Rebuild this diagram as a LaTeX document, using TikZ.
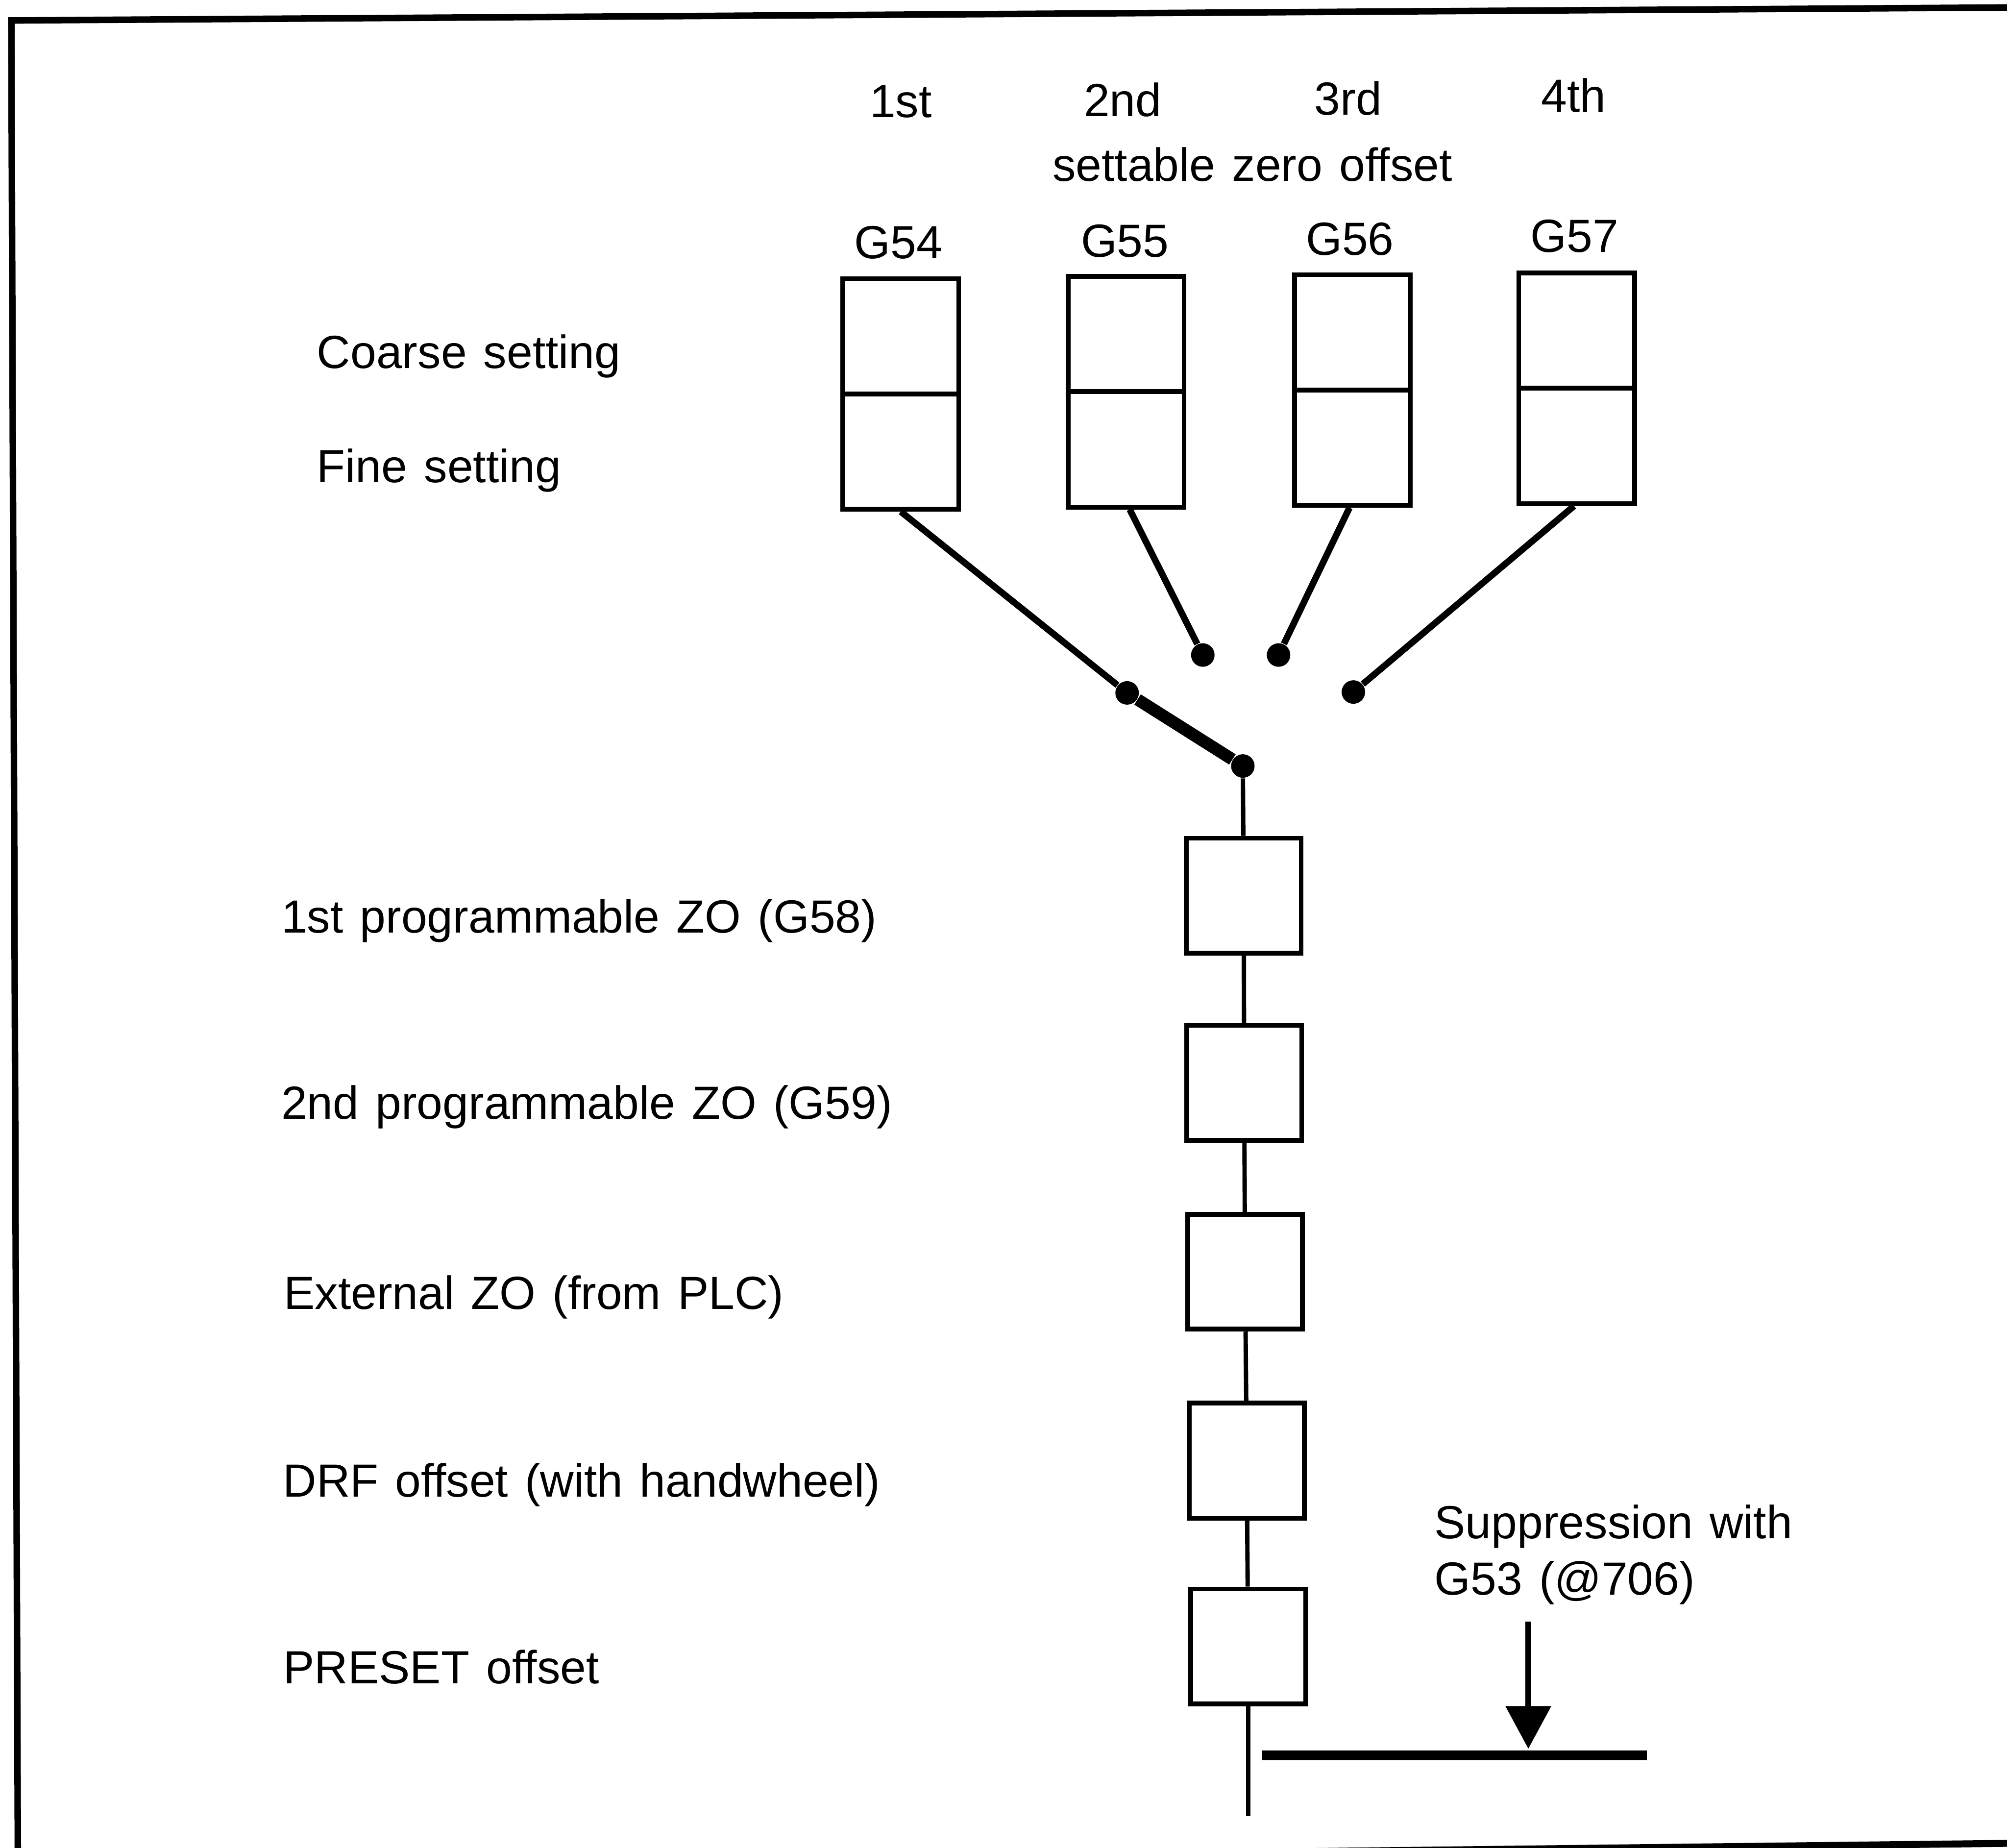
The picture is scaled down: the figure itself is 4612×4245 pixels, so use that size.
\documentclass[tikz,border=0pt]{standalone}
\usepackage{fontspec}
\setmainfont{Liberation Sans}
\usetikzlibrary{arrows.meta}
\newcommand\labelfont{\fontsize{15.2pt}{18.4pt}\selectfont\spaceskip 0.36em\relax}
\begin{document}
\begin{tikzpicture}[x=0.05mm,y=-0.05mm,
  lbl/.style={inner sep=0pt, font=\labelfont},
  setbox/.style={draw, line width=0.55mm, minimum width=13.3mm, minimum height=26.5mm, inner sep=0pt},
  zobox/.style={draw, line width=0.55mm, minimum width=13.2mm, minimum height=13.2mm, inner sep=0pt},
  contact/.style={circle, fill, minimum size=2.7mm, inner sep=0pt},
  wire/.style={line width=0.75mm},
  closedwire/.style={line width=1.4mm},
  chain/.style={line width=0.5mm},
  framel/.style={line width=0.75mm}
]
\useasboundingbox (0,0) rectangle (4612,4245);
\clip (0,0) rectangle (4612,4245);

% outer frame
\coordinate (ftl) at (26,47);
\coordinate (ftr) at (4640,17);
\coordinate (fbl) at (41,4260);
\coordinate (fbs) at (2600,4259);
\coordinate (fbr) at (4640,4235);
\draw[framel] (fbl) -- (ftl) -- (ftr);
\draw[line width=0.8mm] (fbs) -- (fbr);

% column headings
\node[lbl, anchor=base] (h1) at (2070,270) {1st};
\node[lbl, anchor=base] (h2) at (2580,267) {2nd};
\node[lbl, anchor=base] (h3) at (3098,264) {3rd};
\node[lbl, anchor=base] (h4) at (3616,257) {4th};
\node[lbl, anchor=base] (hs) at (2878,416) {settable zero offset};
\node[lbl, anchor=base] (g54) at (2064,594) {G54};
\node[lbl, anchor=base] (g55) at (2585,590) {G55};
\node[lbl, anchor=base] (g56) at (3102,586) {G56};
\node[lbl, anchor=base] (g57) at (3618,579) {G57};

% settable zero offsets: coarse / fine
\node[setbox] (b1) at (2070,905) {};
\node[setbox] (b2) at (2588,900) {};
\node[setbox] (b3) at (3108,896) {};
\node[setbox] (b4) at (3623,892) {};
\foreach \b in {b1,b2,b3,b4} \draw[line width=0.55mm] (\b.west) -- (\b.east);

\node[lbl, anchor=base west] (coarse) at (727,846) {Coarse setting};
\node[lbl, anchor=base west] (fine) at (727,1108) {Fine setting};

% selector contacts
\node[contact] (j) at (2590,1592) {};
\node[contact] (k) at (2856,1760) {};
\node[contact] (c2) at (2764,1505) {};
\node[contact] (c3) at (2938,1505) {};
\node[contact] (c4) at (3110,1590) {};

\draw[wire] (b1.south) -- (j);
\draw[wire] ([xshift=0.4mm]b2.south) -- (c2);
\draw[wire] ([xshift=-0.35mm]b3.south) -- (c3);
\draw[wire] ([xshift=-0.3mm]b4.south) -- (c4);
\draw[closedwire] (j) -- (k);

% chain of further offsets
\node[zobox] (zo1) at (2858,2058) {};
\node[zobox] (zo2) at (2859,2488) {};
\node[zobox] (zo3) at (2861,2922) {};
\node[zobox] (zo4) at (2865,3356) {};
\node[zobox] (zo5) at (2868,3783) {};
\coordinate (chainend) at (2868,4173);

\draw[chain] (k) -- (zo1);
\draw[chain] (zo1) -- (zo2);
\draw[chain] (zo2) -- (zo3);
\draw[chain] (zo3) -- (zo4);
\draw[chain] (zo4) -- (zo5);
\draw[chain] (zo5) -- (zo5.south |- chainend);

\node[lbl, anchor=base west] (l1) at (645,2143) {1st programmable ZO (G58)};
\node[lbl, anchor=base west] (l2) at (645,2571) {2nd programmable ZO (G59)};
\node[lbl, anchor=base west] (l3) at (651,3008) {External ZO (from PLC)};
\node[lbl, anchor=base west] (l4) at (649,3439) {DRF offset (with handwheel)};
\node[lbl, anchor=base west] (l5) at (650,3868) {PRESET offset};

% suppression bar and arrow
\coordinate (barl) at (2901,4033);
\coordinate (barr) at (3784,4033);
\draw[line width=1.1mm] (barl) -- (barr);
\coordinate (arrtop) at (3512,3726);
\coordinate (arrtip) at (3512,4018);
\draw[line width=0.65mm, -{Triangle[length=4.9mm, width=5.1mm]}] (arrtop) -- (arrtip);

\node[lbl, anchor=north west, align=left] (supp) at (3295,3456) {Suppression with\\G53 (@706)};
\end{tikzpicture}
\end{document}
